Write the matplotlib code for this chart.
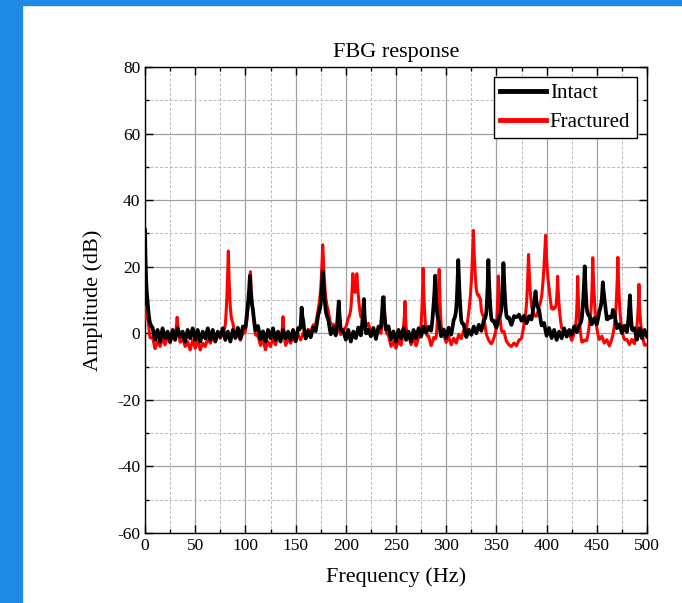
import numpy as np
import matplotlib.pyplot as plt
from matplotlib.patches import Rectangle
from matplotlib.ticker import MultipleLocator

plt.rcParams['font.family'] = ['Liberation Serif', 'DejaVu Serif']
plt.rcParams['axes.unicode_minus'] = False

# noise floor read every 2.5 Hz (0..500 Hz), dB
floor_freq = np.arange(0, 502.5, 2.5)
intact_floor = [
    0, 4, 2, 1.5, -2, 1, -2.5, 1.5, -1.5, 0.5, -2.5, 1, -2, 1.5, -1, 0.5, -2.5, 1, -1.5, 1.5,
    -2, 1, -2.5, 0.5, -1.5, 1.5, -2, 1, -2.5, 0.5, -1, 1.5, -2, 0.5, -2.5, 1, -1.5, 1.5, -2, 1,
    -1, 1.5, 0, 2, -1, 1.5, -2, 0.5, -2.5, 1, -1.5, 1.5, -2, 0.5, -2.5, 1, -1.5, 0.5, -2, 1,
    -2.5, 1, -1.5, 1.5, -2, 0.5, -1.5, 1, -1, 2, 0, 2, 0.5, 1.5, -1.5, 1, -2, 1.5, -1, 0.5,
    -2, 1, -2.5, 0.5, -1.5, 1.5, -2, 1, -2.5, 0.5, -1, 1.5, -2, 1, -1.5, 2, -1, 1.5, -2, 0.5,
    -2.5, 1, -1.5, 1.5, -2, 0.5, -2.5, 1, -1.5, 1.5, -1, 2, 0, 1.5, -1, 2, 0, 1.5, -1.5, 1,
    -1.5, 1.5, -1, 2, 0, 2.5, -0.5, 1.5, -1.5, 1, -0.5, 2, 0, 2.5, 0.5, 3, 1, 3.5, 1.5, 3,
    1, 3, 0.5, 2.5, 1, 3.5, 2, 4.5, 3, 5, 3.5, 5, 2.5, 4, 1.5, 3.5, 2, 4, 1, 2.5,
    -1, 1.5, -1.5, 1, -2, 0.5, -1.5, 1.5, -1, 1, -0.5, 2, 0, 1.5, 0.5, 3, 1, 3.5, 2, 4,
    1.5, 3.5, 2, 4, 1.5, 3.5, 2.5, 4.5, 1, 2.5, 0, 2, -1, 1.5, -1.5, 1, -2, 1.5, -1.5, 1, -1]
fractured_floor = [
    0, -1, -4, -2, -5, -2.5, -4, -1.5, -3.5, -1, -3, -0.5, -2, -1, -3.5, -1.5, -4, -2.5, -5, -2,
    -4.5, -2, -5, -3, -4, -1.5, -3, -1, -2.5, -0.5, -2, -1, -3, 0, -1.5, 0.5, -2, -0.5, -2.5, -1,
    -2, 0, -1, -0.5, -3, -1.5, -4, -2, -5, -2.5, -4, -1.5, -3.5, -1, -3, -2, -4.5, -1.5, -3, -1,
    -2.5, -0.5, -2, 0, -1, 1, 0, 1.5, 0.5, 2, 1, 3, 2, 3, 1, 2, 0, 1.5, -0.5, 1,
    1.5, 3.5, 3, 5, 4, 5.5, 3.5, 4.5, 2, 3, 0, 1.5, -1, 1, -1.5, 0.5, -2, -1, -4, -2.5,
    -4.5, -2, -4, -1.5, -3, -1, -3.5, -1.5, -4, -2.5, -3.5, -1, -3, -1.5, -4, -2, -4.5, -2.5, -4, -1.5,
    -3, -1, -3.5, -1.5, -3, -0.5, -2, 0, -1, 1, 2, 4, 3, 5, 2, 3, -1, -2.5, -3.5, -2.5,
    -3, -1.5, -2, 0, -2.5, -3.5, -4, -3, -4, -2.5, -3, -1, -2, 0, 1, 2.5, 3, 5, 4.5, 6,
    5, 6, 4, 5, 2.5, 3, 0.5, 1, -1, 0, -2.5, -1.5, -3.5, -2, -4, -2.5, -3, -1, -2.5, 0.5,
    -1, -2.5, -1, -3, -2, -4, -2.5, -1, 0, -0.5, -1.5, -2.5, -2, -3.5, -2, -4, -2.5, -3.5, -2, -4, -3.5]

# resonance peaks: centre (Hz), height above floor (dB), decay width (Hz)
intact_peak_f = [0, 104.5, 156, 177, 193, 218, 237, 289, 312, 342, 357, 370, 389, 438, 456, 466, 483]
intact_peak_a = [31, 17, 8, 17, 8.5, 10, 9.5, 16.5, 20, 19, 19, 2, 10, 17.5, 12.5, 3.5, 10.5]
intact_peak_w = [1.5, 2.5, 1.3, 3.0, 1.5, 1.5, 2.0, 1.8, 2.0, 1.6, 2.0, 2.0, 3.0, 2.0, 2.5, 2.0, 1.5]

fractured_peak_f = [2, 32, 83, 105, 137.5, 177, 207, 211, 238, 259, 277, 293, 327, 334, 352, 382, 399, 411, 431, 446, 471, 492]
fractured_peak_a = [9, 6, 25, 19.5, 7, 24, 12, 12, 11, 12, 21, 22, 27, 5, 19, 24, 24, 14, 20, 24, 23, 18]
fractured_peak_w = [2.5, 1.5, 2.0, 2.5, 1.2, 3.0, 1.8, 1.8, 1.5, 1.2, 1.6, 1.6, 2.8, 2.5, 1.6, 2.5, 3.0, 1.5, 1.5, 1.8, 1.8, 1.5]

freq = np.arange(0, 500.25, 0.25)


def spectrum(floor, pf, pa, pw):
    y = np.interp(freq, floor_freq, floor)
    for f0, a, w in zip(pf, pa, pw):
        y = y + a * np.exp(-np.abs(freq - f0) / w)
    return y


intact = spectrum(intact_floor, intact_peak_f, intact_peak_a, intact_peak_w)
fractured = spectrum(fractured_floor, fractured_peak_f, fractured_peak_a, fractured_peak_w)

fig = plt.figure(figsize=(6.82, 6.03), dpi=100)
fig.patches.append(Rectangle((0, 0), 22 / 682, 1, transform=fig.transFigure, color='#1f8ae6', zorder=0))
fig.patches.append(Rectangle((0, 1 - 5 / 603), 1, 5 / 603, transform=fig.transFigure, color='#1f8ae6', zorder=0))

ax = fig.add_axes([145 / 682, 1 - 533 / 603, 502 / 682, 466 / 603])
ax.plot(freq, fractured, color='#ff0000', lw=2.2, label='Fractured', zorder=3)
ax.plot(freq, intact, color='black', lw=2.7, label='Intact', zorder=4)

ax.set_xlim(0, 500)
ax.set_ylim(-60, 80)
ax.xaxis.set_major_locator(MultipleLocator(50))
ax.xaxis.set_minor_locator(MultipleLocator(25))
ax.yaxis.set_major_locator(MultipleLocator(20))
ax.yaxis.set_minor_locator(MultipleLocator(10))
ax.grid(True, which='major', color='#a0a0a0', lw=0.9, ls='-')
ax.grid(True, which='minor', color='#b8b8b8', lw=0.7, ls=(0, (3, 2)))
ax.set_axisbelow(True)
ax.tick_params(which='both', direction='in', top=True, right=True, labelsize=12.5, width=1)
ax.tick_params(which='major', length=6)
ax.tick_params(which='minor', length=3)
for s in ax.spines.values():
    s.set_linewidth(1)

ax.set_title('FBG response', fontsize=16, pad=7)
ax.set_xlabel('Frequency (Hz)', fontsize=16, labelpad=10)
ax.set_ylabel('Amplitude (dB)', fontsize=16, labelpad=10)

h, l = ax.get_legend_handles_labels()
leg = ax.legend(h[::-1], l[::-1], loc='upper right', fontsize=15, handlelength=2.2, handletextpad=0.2,
                borderpad=0.3, labelspacing=0.45, borderaxespad=0.5, fancybox=False, framealpha=1,
                edgecolor='black')
leg.get_frame().set_linewidth(1)
for line in leg.get_lines():
    line.set_linewidth(3.5)

fig.savefig('out.png', dpi=100)
